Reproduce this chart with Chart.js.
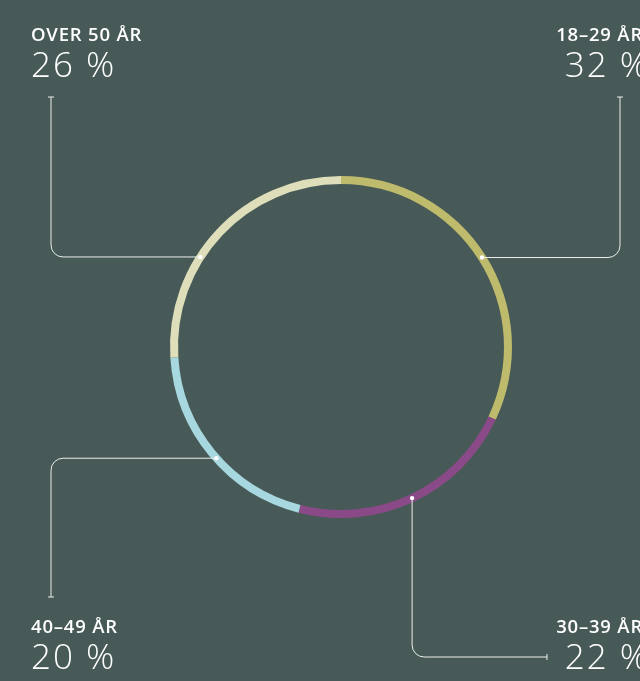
<!DOCTYPE html>
<html>
<head>
<meta charset="utf-8">
<script src="https://cdn.jsdelivr.net/npm/chart.js@4.4.1/dist/chart.umd.min.js"></script>
<style>
  html, body { margin: 0; padding: 0; background: #475a57; }
  #wrap { width: 640px; height: 681px; position: relative; }
</style>
</head>
<body>
<div id="wrap"><canvas id="ageChart"></canvas></div>
<script>
// Aldersfordeling
const categories = ['18–29 ÅR', '30–39 ÅR', '40–49 ÅR', 'OVER 50 ÅR'];
const shares = [32, 22, 20, 26];
const valueLabels = ['32 %', '22 %', '20 %', '26 %'];
const colors = ['#bfbb6d', '#8a4a87', '#a7d8e0', '#dfdebb'];

// Ledelinjer og etiketter
const leaderPlugin = {
    id: 'leaders',
    afterDatasetsDraw(chart, args, opts) {
        const ctx = chart.ctx;
        const arcs = chart.getDatasetMeta(0).data;
        ctx.save();
        opts.items.forEach((item, i) => {
            const arc = arcs[i];
            const a = arc.startAngle + item.f * (arc.endAngle - arc.startAngle);
            const r = (arc.innerRadius + arc.outerRadius) / 2;
            const px = arc.x + r * Math.cos(a);
            const py = arc.y + r * Math.sin(a);

            let cx, cy;
            if (item.vertical) { cx = px; cy = item.cy; }
            else { cx = item.cx; cy = py; }

            ctx.strokeStyle = '#eceeec';
            ctx.lineWidth = 1;
            ctx.beginPath();
            ctx.moveTo(px, py);
            ctx.arcTo(cx, cy, item.ex, item.ey, 12);
            ctx.lineTo(item.ex, item.ey);
            ctx.stroke();

            // endestrek
            ctx.beginPath();
            if (item.vertical) {
                ctx.moveTo(item.ex, item.ey - 3);
                ctx.lineTo(item.ex, item.ey + 3);
            } else {
                ctx.moveTo(item.ex - 3, item.ey);
                ctx.lineTo(item.ex + 3, item.ey);
            }
            ctx.stroke();

            ctx.fillStyle = '#ffffff';
            ctx.beginPath();
            ctx.arc(px, py, 2.2, 0, Math.PI * 2);
            ctx.fill();

            // tekst
            ctx.textAlign = item.align;
            ctx.textBaseline = 'alphabetic';
            ctx.fillStyle = '#ffffff';
            ctx.font = '600 18.5px "Open Sans", "Noto Sans", sans-serif';
            ctx.letterSpacing = '0.8px';
            ctx.fillText(categories[i], item.tx, item.ty);
            ctx.font = '300 35px "Open Sans", "Noto Sans", sans-serif';
            ctx.letterSpacing = '2px';
            ctx.fillText(valueLabels[i], item.vx, item.ty + 36);
            ctx.letterSpacing = '0px';
        });
        ctx.restore();
    }
};

const ctx = document.getElementById('ageChart').getContext('2d');
new Chart(ctx, {
    type: 'doughnut',
    data: {
        labels: categories,
        datasets: [{
            data: shares,
            backgroundColor: colors,
            borderWidth: 0,
            hoverOffset: 0
        }]
    },
    options: {
        responsive: true,
        maintainAspectRatio: false,
        animation: false,
        cutout: 163,
        layout: {
            padding: { left: 170, right: 128, top: 176, bottom: 163 }
        },
        plugins: {
            legend: { display: false },
            tooltip: { enabled: false },
            leaders: {
                items: [
                    { f: 0.5, cx: 620, ex: 620, ey: 97, align: 'right', tx: 643, vx: 650, ty: 41 },
                    { f: 0.5, vertical: true, cy: 657, ex: 547, ey: 657, align: 'right', tx: 643, vx: 650, ty: 633 },
                    { f: 0.47, cx: 51, ex: 51, ey: 597, align: 'left', tx: 31, vx: 31, ty: 633 },
                    { f: 0.387, cx: 51, ex: 51, ey: 97, align: 'left', tx: 31, vx: 31, ty: 41 }
                ]
            }
        }
    },
    plugins: [leaderPlugin]
});
</script>
</body>
</html>
